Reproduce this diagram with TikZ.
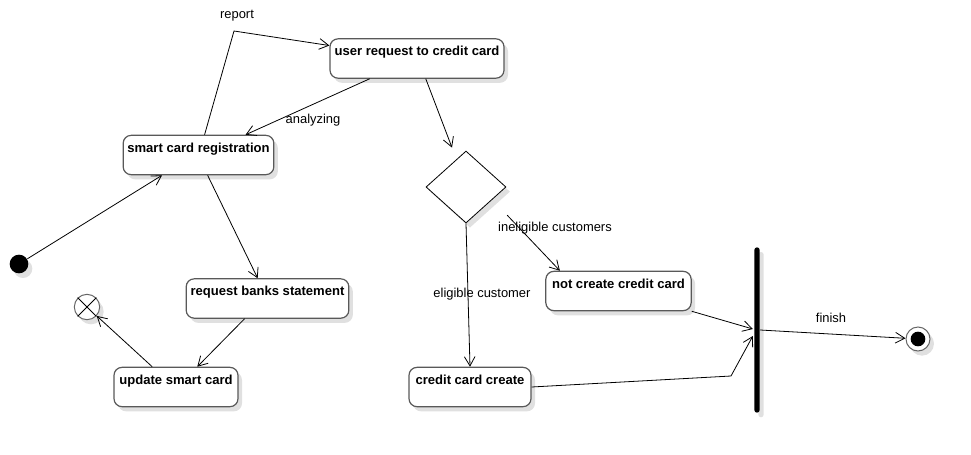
\documentclass[tikz,border=0pt]{standalone}
\usepackage{fontspec}
\setmainfont{Liberation Sans}
\usetikzlibrary{arrows.meta,shapes.geometric,shadows,calc}

\tikzset{every picture/.style={line width=0.75pt}}
\tikzset{
  actbox/.style={draw=black!65, line width=0.9pt, rounded corners=6pt, fill=white,
    font=\bfseries\fontsize{9.8}{11}\selectfont, text height=9.5pt, text depth=14pt,
    inner xsep=2pt, inner ysep=3pt,
    drop shadow={shadow xshift=3pt, shadow yshift=-3.5pt, opacity=0.12, fill=black}},
  flow/.style={line width=0.6pt, -{Straight Barb[length=7pt,width=8pt]}},
  lbl/.style={font=\fontsize{9.7}{11}\selectfont, inner sep=0pt},
  softshadow/.style={drop shadow={shadow xshift=3pt, shadow yshift=-3.5pt, opacity=0.12, fill=black}},
}

\begin{document}
\begin{tikzpicture}[x=0.75pt,y=0.75pt,yscale=-1,xscale=1]
	\useasboundingbox (0,0) rectangle (971,454);

	%Shape: Initial [id:init]
	\node[circle, fill=black, minimum size=14pt, inner sep=0pt, softshadow] (init) at (19,264) {};
	%Shape: Flow final [id:ffin]
	\node[circle, draw=black!60, fill=white, minimum size=19pt, inner sep=0pt, softshadow] (ffin) at (87,307) {};
	\draw[line width=0.6pt] (ffin.45) -- (ffin.225) (ffin.135) -- (ffin.315);
	%Shape: Final [id:fin]
	\node[circle, draw=black!60, fill=white, minimum size=18pt, inner sep=0pt, softshadow] (fin) at (918,339) {};
	\node[circle, fill=black, minimum size=11pt, inner sep=0pt] (finin) at (fin) {};

	%Shape: Activities
	\node[actbox, minimum width=130.5pt] (ucc) at (417,58.5) {user request to credit card};
	\node[actbox, minimum width=113pt] (reg) at (198.5,155) {smart card registration};
	\node[actbox, minimum width=122pt] (rbs) at (267.5,298.5) {request banks statement};
	\node[actbox, minimum width=93pt] (usc) at (176,387) {update smart card};
	\node[actbox, minimum width=109pt] (ncc) at (618.5,291) {not create credit card};
	\node[actbox, minimum width=91.5pt] (ccc) at (470,387) {credit card create};

	%Shape: Decision [id:dia]
	\node[diamond, draw, line width=0.6pt, fill=white, minimum width=60pt, minimum height=54pt, inner sep=0pt, softshadow] (dia) at (466,187) {};
	%Shape: Join bar [id:bar]
	\node[rectangle, fill=black, rounded corners=2pt, minimum width=4pt, minimum height=124pt, inner sep=0pt, softshadow] (bar) at (757,330) {};

	%Straight Lines
	\draw[flow] (init) -- ($(reg.south west)!0.26!(reg.south east)$);
	\coordinate (rep) at (234,31);
	\draw[flow] ($(reg.north west)!0.54!(reg.north east)$) -- (rep) -- ($(ucc.north west)!0.18!(ucc.south west)$);
	\draw[flow] ($(ucc.south west)!0.23!(ucc.south east)$) -- ($(reg.north west)!0.81!(reg.north east)$);
	\draw[flow] ($(ucc.south west)!0.55!(ucc.south east)$) -- ($(dia.north)+(-14,-3)$);
	\draw[flow] ($(reg.south west)!0.56!(reg.south east)$) -- ($(rbs.north west)!0.44!(rbs.north east)$);
	\draw[flow] ($(rbs.south west)!0.36!(rbs.south east)$) -- ($(usc.north west)!0.67!(usc.north east)$);
	\draw[flow] ($(usc.north west)!0.31!(usc.north east)$) -- (ffin);
	\draw[flow] (dia.south) -- (ccc.north);
	\draw[flow] ($(dia.south east)+(21,10)$) -- ($(ncc.north west)!0.1!(ncc.north east)$);
	\draw[flow] (ncc.south east) -- ($(bar.west)+(-1,-1)$);
	\coordinate (cbend) at (731,376);
	\draw[flow] (ccc.east) -- (cbend) -- ($(bar.west)+(-1,6)$);
	\draw[flow] (bar.east) -- (fin);

	% Text Node
	\node[lbl] (lrep) at (237,16) {report};
	% Text Node
	\node[lbl] (lana) at (313,120) {analyzing};
	% Text Node
	\node[lbl] (lelig) at (482,294) {eligible customer};
	% Text Node
	\node[lbl] (linel) at (555,228) {ineligible customers};
	% Text Node
	\node[lbl] (lfin) at (831,318) {finish};

\end{tikzpicture}
\end{document}
